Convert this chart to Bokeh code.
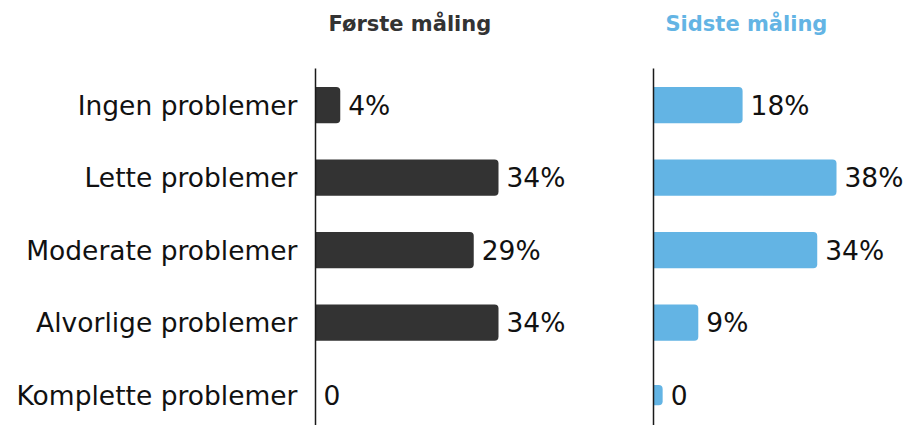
from bokeh.plotting import figure
from bokeh.layouts import row
from bokeh.models import ColumnDataSource, Range1d, FixedTicker, Title
from bokeh.core.properties import value
from bokeh.embed import file_html
from bokeh.resources import INLINE

# ---- data ----
categories = ["Ingen problemer", "Lette problemer", "Moderate problemer",
              "Alvorlige problemer", "Komplette problemer"]
first_values = [4.6, 34.0, 29.4, 34.0, 0.0]
first_labels = ["4%", "34%", "29%", "34%", "0"]
last_values = [18.5, 38.0, 34.0, 9.3, 1.9]
last_labels = ["18%", "38%", "34%", "9%", "0"]
titles = ["Første måling", "Sidste måling"]

FONT = "DejaVu Sans"
DARK = "#333333"
BLUE = "#63b4e4"

rows = list(range(len(categories)))
row_top = -0.505
row_bottom = len(categories) - 0.58
FRAME_H = 357
TOP_BORDER = 68


def make_panel(vals, labels, title, color, title_color, width, border_left,
               frame_w, px_per_max, show_labels, title_offset):
    x_end = max(vals) * frame_w / px_per_max
    p = figure(width=width, height=TOP_BORDER + FRAME_H, output_backend="svg",
               toolbar_location=None, x_axis_location=None,
               x_range=Range1d(0, x_end), y_range=Range1d(row_bottom, row_top),
               min_border_left=border_left, min_border_right=0,
               min_border_top=TOP_BORDER, min_border_bottom=0,
               title=title)
    p.outline_line_color = None
    p.xgrid.visible = False
    p.ygrid.visible = False
    p.background_fill_color = "white"
    p.border_fill_color = "white"

    p.title.text_font = FONT
    p.title.text_font_size = "21px"
    p.title.text_font_style = "bold"
    p.title.text_color = title_color
    p.title.align = "left"
    p.title.offset = title_offset
    p.title.standoff = 10

    # empty spacer between the title and the plot area
    p.add_layout(Title(text=" ", text_font_size="10px", standoff=15), "above")

    heights = [0.5 if lab != "0" else 0.28 for lab in labels]
    src = ColumnDataSource(dict(y=rows, v=vals, lab=labels, h=heights))
    p.hbar(y="y", left=0, right="v", height="h", source=src,
           fill_color=color, line_color=None, border_radius=(0, 4, 4, 0))
    p.text(x="v", y="y", text="lab", source=src, x_offset=8,
           text_baseline="middle", text_align="left",
           text_font=value(FONT), text_font_size="26.5px", text_color="#111111")

    ax = p.yaxis[0]
    ax.axis_line_color = "#1a1a1a"
    ax.axis_line_width = 1.5
    ax.major_tick_line_color = None
    ax.minor_tick_line_color = None
    ax.major_tick_out = 0
    ax.major_tick_in = 0
    if show_labels:
        ax.ticker = FixedTicker(ticks=rows)
        ax.major_label_overrides = {i: c for i, c in zip(rows, categories)}
        ax.major_label_text_font = FONT
        ax.major_label_text_font_size = "26.5px"
        ax.major_label_text_color = "#111111"
        ax.major_label_standoff = 18
    else:
        ax.ticker = FixedTicker(ticks=[])
        ax.major_label_text_font_size = "0px"
    return p


p1 = make_panel(first_values, first_labels, titles[0], DARK, DARK,
                width=605, border_left=315, frame_w=290, px_per_max=183,
                show_labels=True, title_offset=13)
p2 = make_panel(last_values, last_labels, titles[1], BLUE, BLUE,
                width=305, border_left=48, frame_w=257, px_per_max=183,
                show_labels=False, title_offset=12)

layout = row(p1, p2)
open("out.html", "w").write(file_html(layout, INLINE))
